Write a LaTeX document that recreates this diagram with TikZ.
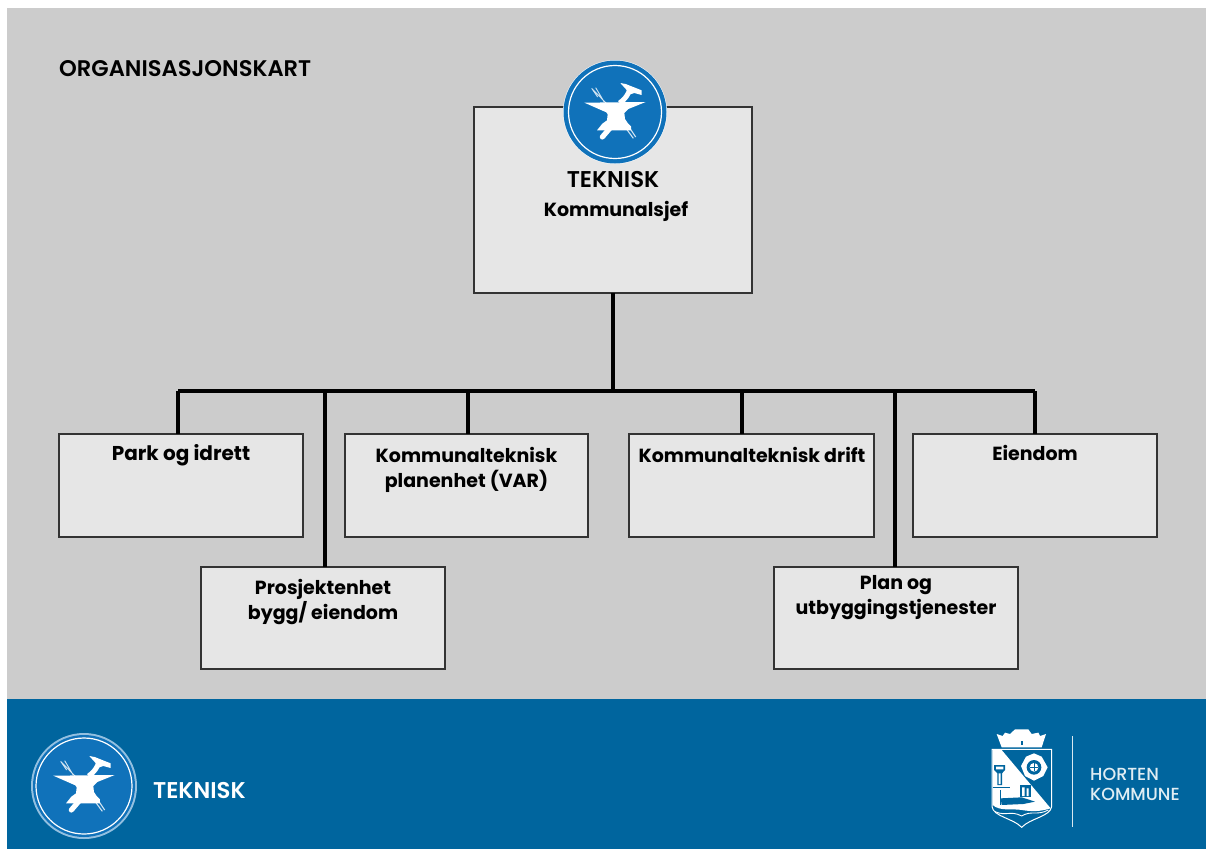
\documentclass[tikz,border=0pt]{standalone}
\usepackage{fontspec}
\setmainfont{Poppins}
\newfontfamily\semib{Poppins SemiBold}
\newfontfamily\medi{Poppins Medium}
\definecolor{pagegray}{HTML}{CCCCCC}
\definecolor{boxgray}{HTML}{E6E6E6}
\definecolor{bandblue}{HTML}{00659E}
\definecolor{iconblue}{HTML}{1072BA}
\tikzset{
  x=1pt,y=-1pt,
  orgbox/.style={draw=black!80,line width=1.2pt,fill=boxgray,minimum width=#1,inner sep=0pt,outer sep=0pt},
  orgline/.style={draw=black,line width=4pt},
  boxtext/.style={font=\fontsize{19}{25}\selectfont\bfseries,align=center,text=black,inner sep=0pt},
  anvil/.pic={
    \begin{scope}[x=0.3333pt,y=-0.3333pt]
      \draw[white!80!iconblue,line width=0.9pt] (-70,-68) -- (-25,-22) (-58,-70) -- (-33,-28) (-70,-68) -- (-52,-42);
      \draw[white!80!iconblue,line width=1.1pt] (33,52) -- (55,82) (42,48) -- (62,78);
      \fill[white] (-92,-25) -- (92,-27) -- (40,-6) -- (28,6) -- (30,24) -- (38,36) -- (48,46) -- (48,58) -- (-54,58) -- (-38,38) -- (-24,28) -- (-22,10) -- (-26,4) -- cycle;
      \draw[white,line width=5.2pt,line cap=round] (-14,50) -- (-38,78);
      \draw[white,line width=5pt] (14,-24) .. controls (30,-36) and (40,-48) .. (45,-68);
      \fill[white] (16,-84) -- (32,-81) -- (80,-62) -- (80,-48) -- (58,-54) -- (46,-50) -- (34,-64) -- cycle;
    \end{scope}}
}
\begin{document}
\begin{tikzpicture}
\useasboundingbox (0,0) rectangle (1206,849);
\fill[pagegray] (7,8) rectangle (1206,699);
\fill[bandblue] (7,699) rectangle (1206,849);

\node[anchor=west,font=\fontsize{22.6}{24}\selectfont\semib,inner sep=0pt] (title) at (59,69) {ORGANISASJONSKART};

% boxes
\node[orgbox=278pt,minimum height=186pt] (main) at (613,200) {};
\node[orgbox=244pt,minimum height=103pt] (park) at (181,485.5) {};
\node[orgbox=243pt,minimum height=103pt] (plan) at (466.5,485.5) {};
\node[orgbox=245pt,minimum height=103pt] (drift) at (751.5,485.5) {};
\node[orgbox=244pt,minimum height=103pt] (eiendom) at (1035,485.5) {};
\node[orgbox=244pt,minimum height=102pt] (prosjekt) at (323,618) {};
\node[orgbox=244pt,minimum height=102pt] (utbygg) at (896,618) {};

% connectors
\coordinate (busL) at (178,391);
\coordinate (busR) at (1035,391);
\coordinate (busA) at (325,391);
\coordinate (busB) at (468,391);
\coordinate (busC) at (742,391);
\coordinate (busD) at (895,391);
\coordinate (busM) at (613,391);
\draw[orgline] (main.south) -- (busM);
\draw[orgline,line cap=square] (busL) -- (busR);
\draw[orgline] (busL) -- (busL |- park.north);
\draw[orgline] (busA) -- (busA |- prosjekt.north);
\draw[orgline] (busB) -- (busB |- plan.north);
\draw[orgline] (busC) -- (busC |- drift.north);
\draw[orgline] (busD) -- (busD |- utbygg.north);
\draw[orgline] (busR) -- (busR |- eiendom.north);

% texts
\node[font=\fontsize{22.8}{26}\selectfont\semib,inner sep=0pt] (teknisk) at (613,180) {TEKNISK};
\node[boxtext] (sjef) at (616,211) {Kommunalsjef};
\node[font=\fontsize{20}{25}\selectfont\bfseries,inner sep=0pt] (parkt) at (181,455) {Park og idrett};
\node[boxtext] (plant) at (466.5,469.5) {Kommunalteknisk\\planenhet (VAR)};
\node[boxtext] (driftt) at (752,455) {Kommunalteknisk drift};
\node[boxtext] (eiendomt) at (1035,453) {Eiendom};
\node[boxtext] (prosjektt) at (323,601.5) {Prosjektenhet\\bygg/ eiendom};
\node[boxtext] (utbyggt) at (896,597.5) {Plan og\\utbyggingstjenester};

% top icon
\node[circle,fill=white,minimum size=104pt,inner sep=0pt] (iconA) at (615,112) {};
\node[circle,fill=iconblue,minimum size=103pt,inner sep=0pt] (iconAo) at (615,112) {};
\node[circle,draw=white,line width=1.2pt,minimum size=93pt,inner sep=0pt] (iconAi) at (615,112) {};
\pic at (615,111) {anvil};

% bottom band
\node[circle,fill=white!55!iconblue,minimum size=106pt,inner sep=0pt] (iconB) at (84,786) {};
\node[circle,fill=iconblue,minimum size=102pt,inner sep=0pt] (iconBo) at (84,786) {};
\node[circle,draw=white,line width=1.2pt,minimum size=96pt,inner sep=0pt] (iconBi) at (84,786) {};
\pic at (84,784) {anvil};
\node[anchor=west,text=white,font=\fontsize{22.8}{26}\selectfont\semib,inner sep=0pt] (band) at (153,790) {TEKNISK};

% coat of arms
\begin{scope}[shift={(960,710)},x=0.3333pt,y=-0.3333pt]
  % crown
  \fill[white] (110,72) -- (128,78) -- (135,68) -- (150,72) -- (165,58) -- (205,58) -- (215,72) -- (235,68) -- (240,78) -- (258,72) -- (245,112) -- (125,112) -- cycle;
  \fill[bandblue] (182,92) rectangle (190,106);
  % shield outline
  \draw[white,line width=1pt] (96,118) -- (275,118) -- (275,290) .. controls (270,320) and (210,325) .. (185,352) .. controls (160,325) and (100,320) .. (96,290) -- cycle;
  % diagonal white field
  \fill[white] (98,120) -- (125,120) -- (272,295) .. controls (240,305) and (215,305) .. (185,300) .. controls (160,295) and (120,305) .. (98,285) -- cycle;
  % tower
  \fill[bandblue] (102,165) -- (135,165) -- (135,180) -- (126,190) -- (126,225) -- (112,225) -- (112,190) -- (102,180) -- cycle;
  \fill[white] (108,170) rectangle (130,178) (116,190) rectangle (122,222);
  \draw[bandblue,line width=1pt] (98,232) -- (150,232) (120,240) -- (120,285);
  % waves and ship
  \fill[bandblue] (122,265) -- (185,262) -- (225,275) -- (190,282) -- (125,285) -- cycle;
  \fill[bandblue] (180,225) rectangle (212,262);
  \fill[white] (186,232) rectangle (194,258) (200,235) rectangle (206,258);
  \draw[white,line width=0.9pt] (105,305) .. controls (140,320) and (150,300) .. (185,318) .. controls (215,300) and (230,318) .. (265,300);
  % rose
  \fill[white] (222,130) -- (245,140) -- (263,172) -- (250,198) -- (222,212) -- (195,198) -- (183,168) -- (198,140) -- cycle;
  \fill[bandblue] (222,172) circle[radius=22];
  \fill[white] (222,172) circle[radius=13];
  \draw[bandblue,line width=0.6pt] (222,160) -- (222,184) (210,172) -- (234,172);
\end{scope}
\coordinate (rulea) at (1072.5,736);
\coordinate (ruleb) at (1072.5,827);
\draw[white!85!bandblue,line width=1.7pt] (rulea) -- (ruleb);
\node[anchor=west,text=white!88!bandblue,font=\fontsize{17.5}{19}\selectfont\medi,inner sep=0pt] (horten) at (1090,774) {HORTEN};
\node[anchor=west,text=white!88!bandblue,font=\fontsize{17.5}{19}\selectfont\medi,inner sep=0pt] (kommune) at (1090,794) {KOMMUNE};
\end{tikzpicture}
\end{document}
